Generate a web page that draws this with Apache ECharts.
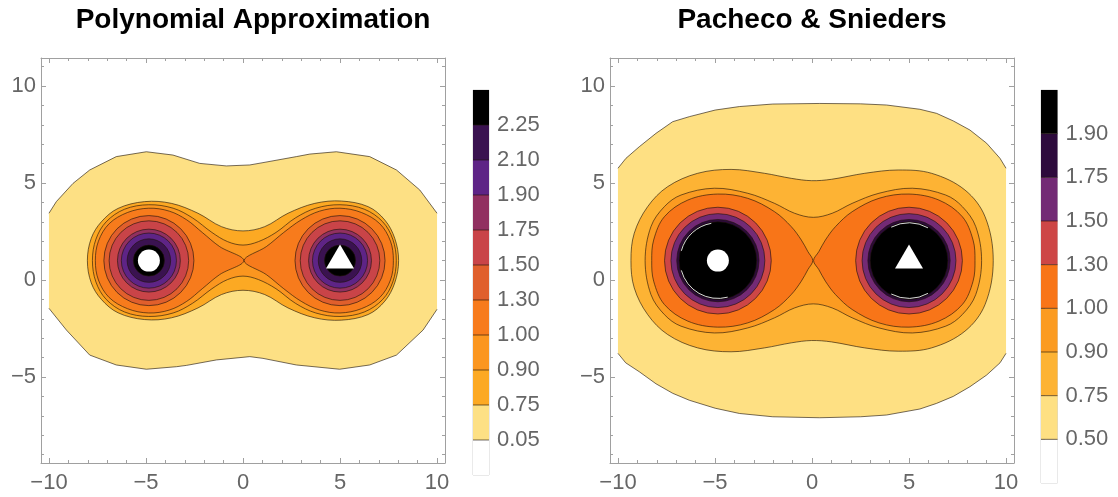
<!DOCTYPE html>
<html><head><meta charset="utf-8">
<script src="https://cdn.jsdelivr.net/npm/echarts@6/dist/echarts.min.js"></script>
<style>html,body{margin:0;padding:0;background:#fff}#c{width:1118px;height:497px}</style>
</head><body><div id="c"></div>
<script>
// ---------------- data ----------------
const titles = ['Polynomial Approximation', 'Pacheco & Snieders'];
const xTickMajor = [-10, -5, 0, 5, 10];
const yTickMajor = [-5, 0, 5, 10];
const xTickMinor = [-10,-9,-8,-7,-6,-5,-4,-3,-2,-1,0,1,2,3,4,5,6,7,8,9,10];
const yTickMinor = [-9,-8,-7,-6,-5,-4,-3,-2,-1,0,1,2,3,4,5,6,7,8,9,10,11];
const sourceCircle = [-4.85, 1];
const sourceTriangle = [5, 1];

// Polynomial Approximation
const paLevels = [0.05, 0.75, 0.90, 1.00, 1.30, 1.50, 1.75, 1.90, 2.10, 2.25];
const paColors = ['#ffffff', '#fde084', '#fca923', '#fb961f', '#f77b1c', '#e05f2c', '#c94448', '#913060', '#5e2486', '#3a1250', '#000000'];
const paOuterTop = [[-10,3.44],[-9.62,4.04],[-8.76,4.98],[-7.9,5.67],[-6.53,6.36],[-4.98,6.61],[-3.61,6.44],[-2.23,6.01],[-0.86,5.88],[0.35,5.93],[1.03,6.05],[2.75,6.36],[3.44,6.49],[4.81,6.61],[6.53,6.36],[7.91,5.67],[9.11,4.64],[10,3.44]];
const paOuterBottom = [[-10,-1.46],[-9.1,-2.58],[-7.9,-3.87],[-6.53,-4.38],[-4.98,-4.6],[-3.43,-4.47],[-2.9,-4.4],[-1.37,-4.12],[0.35,-3.95],[1.03,-4.04],[2.75,-4.38],[4.98,-4.6],[6.53,-4.38],[7.91,-3.87],[9.28,-2.58],[10,-1.51]];
const paC075 = [[-8.02,1.0],[-7.82,2.15],[-7.3,3.0],[-6.44,3.69],[-5.07,4.04],[-3.69,3.95],[-2.32,3.44],[-1.11,2.75],[0,2.53],[1.12,2.75],[2.32,3.44],[3.7,3.95],[5.07,4.07],[6.45,3.78],[7.31,3.09],[7.82,2.15],[8.02,1.0]];
const paC090 = [[-7.76,1.0],[-7.58,2.1],[-7.05,3.0],[-6.1,3.65],[-4.86,3.88],[-3.6,3.7],[-2.6,3.2],[-1.6,2.45],[-0.8,1.98],[0,1.8],[0.8,1.98],[1.7,2.45],[2.7,3.2],[3.75,3.7],[5,3.88],[6.25,3.65],[7.2,3.0],[7.72,2.1],[7.9,1.0]];
const paLobeL = [[-7.61,1.0],[-7.45,2.0],[-6.9,2.9],[-5.95,3.48],[-4.86,3.7],[-3.8,3.55],[-2.9,3.1],[-2.1,2.45],[-1.2,1.72],[0.04,1.0]];
const paLobeR = [[0.06,1.0],[1.2,1.72],[2.1,2.45],[3.0,3.1],[3.95,3.55],[5,3.7],[6.1,3.48],[7.05,2.9],[7.6,2.0],[7.75,1.0]];
const paRingLevels = [1.30, 1.50, 1.75, 1.90, 2.10, 2.25];
const paRingRadii = [2.32, 2.05, 1.62, 1.42, 1.12, 0.80];
const paArcs = [];

// Pacheco & Snieders
const psLevels = [0.50, 0.75, 0.90, 1.00, 1.30, 1.50, 1.75, 1.90];
const psColors = ['#ffffff', '#fee083', '#fdb334', '#fb9b21', '#f87518', '#cd4646', '#732a75', '#2d0a3c', '#000000'];
const psOuterTop = [[-10,5.76],[-9.59,6.27],[-8.9,6.87],[-8.04,7.56],[-7.18,8.16],[-6.32,8.42],[-4.99,8.76],[-3.74,8.94],[-2.02,9.07],[0.4,9.1],[2.5,9.08],[3.84,9.02],[5.56,8.8],[6.42,8.59],[7.28,8.2],[8.14,7.73],[9.0,7.05],[9.69,6.27],[10,5.76]];
const psOuterBottom = [[-10,-3.78],[-9.6,-4.27],[-8.9,-4.73],[-8.04,-5.35],[-7.18,-5.84],[-6.32,-6.2],[-4.99,-6.61],[-3.74,-6.88],[-2.02,-7.05],[0.4,-7.1],[2.5,-7.05],[3.84,-6.96],[5.56,-6.65],[6.42,-6.36],[7.28,-6.0],[8.14,-5.5],[9.0,-4.9],[9.69,-4.27],[10,-3.78]];
const psC075 = [[-9.33,1.0],[-9.16,2.41],[-8.47,3.78],[-7.44,4.81],[-5.89,5.5],[-4.17,5.7],[-2.45,5.5],[-1.07,5.24],[-0.03,5.12],[1.0,5.19],[2.72,5.5],[4.44,5.67],[6.16,5.5],[7.88,4.64],[8.92,3.26],[9.34,1.0]];
const psC090 = [[-8.6,1.0],[-8.3,2.75],[-7.61,3.78],[-6.75,4.38],[-5.03,4.73],[-3.31,4.47],[-1.93,3.95],[-0.9,3.44],[0.07,3.23],[1.04,3.44],[2.07,3.95],[3.45,4.47],[5.17,4.73],[6.89,4.38],[7.75,3.78],[8.44,2.75],[8.74,1.0]];
const psLobeL = [[-8.26,1.0],[-8.16,2.06],[-7.61,3.26],[-6.4,4.12],[-4.86,4.43],[-3.31,4.21],[-1.93,3.52],[-1.07,2.75],[-0.55,2.06],[-0.21,1.46],[0.04,1.0]];
const psLobeR = [[0.08,1.0],[0.35,1.46],[0.69,2.06],[1.21,2.75],[2.07,3.52],[3.45,4.21],[5.0,4.43],[6.54,4.12],[7.75,3.26],[8.3,2.06],[8.4,1.0]];
const psRingLevels = [1.30, 1.50, 1.75, 1.90];
const psRingRadii = [2.75, 2.42, 2.12, 2.00];
// thin white arcs just inside the black discs: [cx, cy, r, fromDeg, toDeg]
const psArcs = [[-4.85,1,1.95,100,165],[-4.85,1,1.95,195,285],[5,1,1.95,60,118],[5,1,1.95,242,300]];

// ---------------- build ----------------
const LINE = 'rgba(30,20,10,0.62)';
const FRAME = '#a0a0a0';
const FONT = 'Liberation Sans';
const symY = sourceCircle[1];

function colorOf(levels, colors, lv) { return colors[levels.indexOf(lv) + 1]; }
function mirror(half) {
  return half.concat(half.slice(1, -1).reverse().map(p => [p[0], 2 * symY - p[1]]));
}
function buildLayers(levels, colors, outerTop, outerBottom, c075, c090, lobeL, lobeR, ringLevels, ringRadii, arcs) {
  const L = [];
  L.push({kind: 'outer', top: outerTop, bottom: outerBottom, fill: colorOf(levels, colors, levels[0])});
  L.push({kind: 'poly', pts: mirror(c075), fill: colorOf(levels, colors, 0.75)});
  L.push({kind: 'poly', pts: mirror(c090), fill: colorOf(levels, colors, 0.90)});
  L.push({kind: 'poly', pts: mirror(lobeL), fill: colorOf(levels, colors, 1.00)});
  L.push({kind: 'poly', pts: mirror(lobeR), fill: colorOf(levels, colors, 1.00)});
  ringLevels.forEach((lv, i) => {
    [sourceCircle, sourceTriangle].forEach(c => {
      L.push({kind: 'circle', c: c, r: ringRadii[i], fill: colorOf(levels, colors, lv)});
    });
  });
  arcs.forEach(a => L.push({kind: 'arc', c: [a[0], a[1]], r: a[2], a0: a[3], a1: a[4]}));
  return L;
}
const paLayers = buildLayers(paLevels, paColors, paOuterTop, paOuterBottom, paC075, paC090, paLobeL, paLobeR, paRingLevels, paRingRadii, paArcs);
const psLayers = buildLayers(psLevels, psColors, psOuterTop, psOuterBottom, psC075, psC090, psLobeL, psLobeR, psRingLevels, psRingRadii, psArcs);

function drawLayer(L, api) {
  if (L.kind === 'outer') {
    const top = L.top.map(p => api.coord(p));
    const bot = L.bottom.map(p => api.coord(p));
    return {type: 'group', children: [
      {type: 'polygon', shape: {points: top.concat(bot.slice().reverse())}, style: {fill: L.fill, stroke: null, lineWidth: 0}},
      {type: 'polyline', shape: {points: top}, style: {fill: null, stroke: LINE, lineWidth: 1}},
      {type: 'polyline', shape: {points: bot}, style: {fill: null, stroke: LINE, lineWidth: 1}}
    ]};
  }
  if (L.kind === 'poly') {
    return {type: 'polygon', shape: {points: L.pts.map(p => api.coord(p)), smooth: 0.35},
      style: {fill: L.fill, stroke: LINE, lineWidth: 1}};
  }
  const c = api.coord(L.c);
  const r = api.size([L.r, 0])[0];
  if (L.kind === 'arc') {
    return {type: 'arc', shape: {cx: c[0], cy: c[1], r: r, startAngle: -L.a1 * Math.PI / 180, endAngle: -L.a0 * Math.PI / 180, clockwise: true},
      style: {fill: null, stroke: 'rgba(255,255,255,0.85)', lineWidth: 1}};
  }
  return {type: 'circle', shape: {cx: c[0], cy: c[1], r: r}, style: {fill: L.fill, stroke: LINE, lineWidth: 1}};
}

const plotGrids = [
  {left: 41, top: 58, width: 404, height: 405},
  {left: 610, top: 58, width: 404, height: 405}
];
const XR = [-10.41, 10.41], YR = [-9.433, 11.443];
const fmt = v => String(v).replace('-', '\u2212');
const hiddenLine = {show: false, onZero: false};
const frameLine = {show: true, onZero: false, lineStyle: {color: FRAME, width: 1}};

const grids = [], xAxes = [], yAxes = [], series = [];
plotGrids.forEach((g, gi) => {
  grids.push(Object.assign({show: false}, g));
  const base = {gridIndex: gi, type: 'value', min: XR[0], max: XR[1], splitLine: {show: false}};
  xAxes.push(Object.assign({}, base, {position: 'bottom', axisLine: frameLine,
    axisTick: {show: true, inside: true, length: 5, customValues: xTickMajor, lineStyle: {color: FRAME}},
    axisLabel: {show: true, customValues: xTickMajor, formatter: fmt, fontSize: 22, color: '#666', fontFamily: FONT, margin: 9}}));
  xAxes.push(Object.assign({}, base, {position: 'bottom', axisLine: hiddenLine,
    axisTick: {show: true, inside: true, length: 3, customValues: xTickMinor, lineStyle: {color: FRAME}}, axisLabel: {show: false}}));
  xAxes.push(Object.assign({}, base, {position: 'top', axisLine: frameLine,
    axisTick: {show: true, inside: true, length: 5, customValues: xTickMajor, lineStyle: {color: FRAME}}, axisLabel: {show: false}}));
  xAxes.push(Object.assign({}, base, {position: 'top', axisLine: hiddenLine,
    axisTick: {show: true, inside: true, length: 3, customValues: xTickMinor, lineStyle: {color: FRAME}}, axisLabel: {show: false}}));
  const ybase = {gridIndex: gi, type: 'value', min: YR[0], max: YR[1], splitLine: {show: false}};
  yAxes.push(Object.assign({}, ybase, {position: 'left', axisLine: frameLine,
    axisTick: {show: true, inside: true, length: 5, customValues: yTickMajor, lineStyle: {color: FRAME}},
    axisLabel: {show: true, customValues: yTickMajor, formatter: fmt, fontSize: 22, color: '#666', fontFamily: FONT, margin: 5}}));
  yAxes.push(Object.assign({}, ybase, {position: 'left', axisLine: hiddenLine,
    axisTick: {show: true, inside: true, length: 3, customValues: yTickMinor, lineStyle: {color: FRAME}}, axisLabel: {show: false}}));
  yAxes.push(Object.assign({}, ybase, {position: 'right', axisLine: frameLine,
    axisTick: {show: true, inside: true, length: 5, customValues: yTickMajor, lineStyle: {color: FRAME}}, axisLabel: {show: false}}));
  yAxes.push(Object.assign({}, ybase, {position: 'right', axisLine: hiddenLine,
    axisTick: {show: true, inside: true, length: 3, customValues: yTickMinor, lineStyle: {color: FRAME}}, axisLabel: {show: false}}));

  const layers = gi === 0 ? paLayers : psLayers;
  series.push({
    type: 'custom', coordinateSystem: 'cartesian2d', xAxisIndex: gi * 4, yAxisIndex: gi * 4,
    clip: true, silent: true, z: 2,
    data: layers.map((l, i) => [0, 0, i]),
    encode: {x: 0, y: 1},
    renderItem: (params, api) => drawLayer(layers[params.dataIndex], api)
  });
  series.push({type: 'scatter', xAxisIndex: gi * 4, yAxisIndex: gi * 4, z: 5, silent: true,
    data: [sourceCircle], symbol: 'circle', symbolSize: 22, itemStyle: {color: '#ffffff', opacity: 1}});
  series.push({type: 'scatter', xAxisIndex: gi * 4, yAxisIndex: gi * 4, z: 5, silent: true,
    data: [sourceTriangle], symbol: 'triangle', symbolSize: [28, 24], symbolOffset: [0, -4], itemStyle: {color: '#ffffff', opacity: 1}});
});

// colour bars
const bars = [
  {grid: {left: 473, top: 90, width: 16, height: 385}, levels: paLevels, colors: paColors, margin: 8},
  {grid: {left: 1041, top: 90, width: 16.5, height: 393}, levels: psLevels, colors: psColors, margin: 8}
];
bars.forEach((b, bi) => {
  const gi = grids.length;
  grids.push(Object.assign({show: true, borderColor: '#d4d4d4', borderWidth: 1, backgroundColor: 'transparent'}, b.grid));
  const n = b.colors.length;
  const ticks = b.levels.map((l, i) => i + 1);
  xAxes.push({gridIndex: gi, type: 'value', min: 0, max: 1, show: false});
  yAxes.push({gridIndex: gi, type: 'value', min: 0, max: n, interval: 1, position: 'right',
    splitLine: {show: false}, axisLine: {show: false},
    axisTick: {show: true, inside: false, length: 4, customValues: ticks, lineStyle: {color: '#bbbbbb'}},
    axisLabel: {show: true, customValues: ticks, formatter: v => (v >= 1 && v <= b.levels.length) ? b.levels[v - 1].toFixed(2) : '',
      fontSize: 22, color: '#666', fontFamily: FONT, margin: b.margin}});
  series.push({
    type: 'custom', coordinateSystem: 'cartesian2d', xAxisIndex: xAxes.length - 1, yAxisIndex: yAxes.length - 1,
    silent: true, z: 2,
    data: b.colors.map((c, i) => [0, i, i]),
    encode: {x: 0, y: 1},
    renderItem: (params, api) => {
      const i = params.dataIndex;
      const p0 = api.coord([0, i]), p1 = api.coord([1, i + 1]);
      const children = [{type: 'rect', shape: {x: p0[0], y: p1[1], width: p1[0] - p0[0], height: p0[1] - p1[1]},
        style: {fill: b.colors[i]}}];
      if (i > 0) children.push({type: 'line', shape: {x1: p0[0], y1: p0[1], x2: p1[0], y2: p0[1]},
        style: {stroke: LINE, lineWidth: 1}});
      return {type: 'group', children: children};
    }
  });
});

const chart = echarts.init(document.getElementById('c'), null, {renderer: 'canvas'});
chart.setOption({
  animation: false,
  backgroundColor: '#ffffff',
  title: [
    {text: titles[0], left: 248, top: 1, textAlign: 'center', textStyle: {fontSize: 28, fontWeight: 'bold', color: '#000', fontFamily: FONT}},
    {text: titles[1], left: 807, top: 1, textAlign: 'center', textStyle: {fontSize: 28, fontWeight: 'bold', color: '#000', fontFamily: FONT}}
  ],
  grid: grids,
  xAxis: xAxes,
  yAxis: yAxes,
  series: series
});
</script>
</body></html>
